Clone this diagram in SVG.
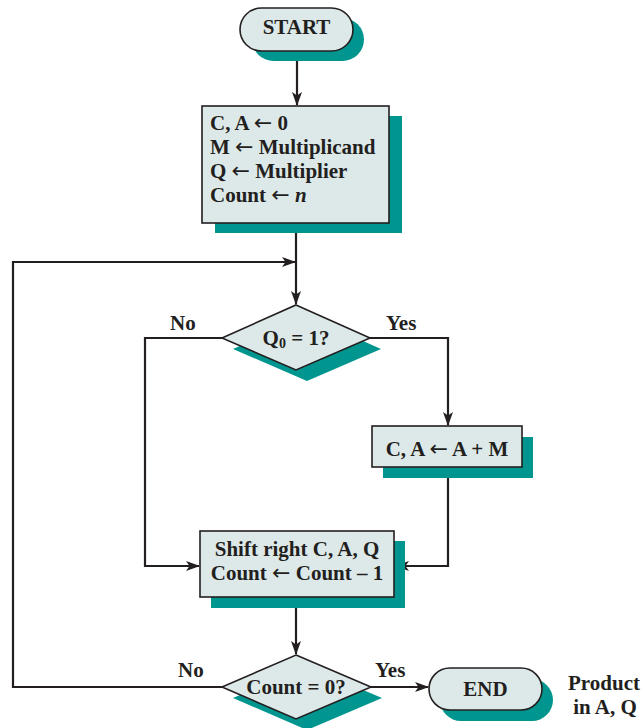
<svg xmlns="http://www.w3.org/2000/svg" width="642" height="728" viewBox="0 0 642 728">
<defs>
<style>
.shape{fill:#DDE9E9;stroke:#231F20;stroke-width:1.6}
.shadow{fill:#00968F;stroke:none}
.conn{fill:none;stroke:#231F20;stroke-width:2.2}
text{font-family:"Liberation Serif","Times New Roman",serif;font-weight:bold;font-size:21px;fill:#231F20}
.c{text-anchor:middle}
.ar{font-family:"DejaVu Sans",sans-serif;font-weight:normal;font-size:22px}
</style>
<marker id="arr" markerUnits="userSpaceOnUse" markerWidth="14" markerHeight="12" refX="13" refY="5" orient="auto" viewBox="0 0 14 10">
<path d="M0,0 L14,5 L0,10 L3.5,5 z" fill="#231F20"/>
</marker>
</defs>
<rect width="642" height="728" fill="#FFFFFF"/>
<g id="connectors">
<path class="conn" d="M297,51 V105" marker-end="url(#arr)"/>
<path class="conn" d="M296,223 V304" marker-end="url(#arr)"/>
<path class="conn" d="M222,687 H13 V262 H295" marker-end="url(#arr)"/>
<path class="conn" d="M222,338 H145 V566 H199" marker-end="url(#arr)"/>
<path class="conn" d="M370,338 H448 V425" marker-end="url(#arr)"/>
<path class="conn" d="M448,467 V566 H396" marker-end="url(#arr)"/>
<path class="conn" d="M296,597 V654" marker-end="url(#arr)"/>
<path class="conn" d="M371,687 H428" marker-end="url(#arr)"/>
</g>
<g id="start">
<rect class="shadow" x="252" y="18" width="112" height="43" rx="21.5"/>
<rect class="shape" x="240" y="8" width="113" height="43" rx="21.5"/>
<text class="c" x="296.5" y="34">START</text>
</g>
<g id="init">
<rect class="shadow" x="215" y="116" width="187" height="117"/>
<rect class="shape" x="202" y="106" width="187" height="117"/>
<text x="210" y="130">C, A <tspan class="ar">←</tspan> 0</text>
<text x="210" y="154">M <tspan class="ar">←</tspan> Multiplicand</text>
<text x="210" y="178">Q <tspan class="ar">←</tspan> Multiplier</text>
<text x="210" y="202">Count <tspan class="ar">←</tspan> <tspan font-style="italic">n</tspan></text>
</g>
<g id="q0">
<polygon class="shadow" points="307,316 381,349 307,381 233,349"/>
<polygon class="shape" points="296,305 370,338 296,370 222,338"/>
<text class="c" x="296" y="345">Q<tspan font-size="14" dy="3">0</tspan><tspan dy="-3"> = 1?</tspan></text>
</g>
<g id="add">
<rect class="shadow" x="383" y="437" width="150" height="41"/>
<rect class="shape" x="372" y="426" width="150" height="41"/>
<text class="c" x="447" y="456">C, A <tspan class="ar">←</tspan> A + M</text>
</g>
<g id="shift">
<rect class="shadow" x="211" y="541" width="194" height="67"/>
<rect class="shape" x="200" y="531" width="194" height="66"/>
<text class="c" x="297" y="556">Shift right C, A, Q</text>
<text class="c" x="297" y="580">Count <tspan class="ar">←</tspan> Count – 1</text>
</g>
<g id="count0">
<polygon class="shadow" points="307,666 382,698 307,730 233,698"/>
<polygon class="shape" points="296,655 371,687 296,719 222,687"/>
<text class="c" x="296" y="694">Count = 0?</text>
</g>
<g id="end">
<rect class="shadow" x="440" y="679" width="113" height="42" rx="21"/>
<rect class="shape" x="429" y="668" width="113" height="42" rx="21"/>
<text class="c" x="485.5" y="696">END</text>
</g>
<g id="labels">
<text x="170" y="330">No</text>
<text x="386" y="330">Yes</text>
<text x="178" y="677">No</text>
<text x="375" y="677">Yes</text>
<text class="c" x="604" y="690">Product</text>
<text class="c" x="605" y="714">in A, Q</text>
</g>
</svg>
